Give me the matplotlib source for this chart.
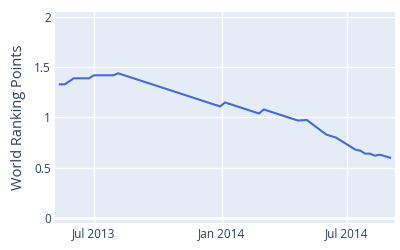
import numpy as np
import pandas as pd
import matplotlib
matplotlib.use("Agg")
import matplotlib.pyplot as plt
import matplotlib.dates as mdates

plt.rcParams['font.family'] = ['Open Sans', 'DejaVu Sans']

dates = pd.to_datetime([
    "2013-05-13", "2013-05-20", "2013-06-02", "2013-06-24", "2013-07-01",
    "2013-07-29", "2013-08-05", "2013-12-30", "2014-01-06", "2014-02-24",
    "2014-03-03", "2014-04-21", "2014-05-04", "2014-06-01", "2014-06-15",
    "2014-07-13", "2014-07-20", "2014-07-27", "2014-08-03", "2014-08-10",
    "2014-08-17", "2014-09-01",
])
points = [
    1.33, 1.33, 1.39, 1.39, 1.42,
    1.42, 1.44, 1.11, 1.15, 1.04,
    1.08, 0.97, 0.975, 0.83, 0.80,
    0.68, 0.67, 0.64, 0.64, 0.62,
    0.63, 0.60,
]

tick_dates = pd.to_datetime(["2013-07-01", "2014-01-01", "2014-07-01"])
tick_labels = ["Jul 2013", "Jan 2014", "Jul 2014"]
y_ticks = [0, 0.5, 1, 1.5, 2]
y_labels = ["0", "0.5", "1", "1.5", "2"]

fig = plt.figure(figsize=(4, 2.5), dpi=100)
ax = fig.add_axes([55 / 400, 1 - 223 / 250, 340 / 400, 211 / 250])
ax.set_facecolor("#E5ECF6")

ax.plot(dates, points, color="#4169E1", linewidth=1.5, zorder=3)

ax.set_xlim(pd.Timestamp("2013-05-06"), pd.Timestamp("2014-09-08"))
ax.set_ylim(-0.05, 2.05)
ax.set_xticks(tick_dates)
ax.set_xticklabels(tick_labels)
ax.set_yticks(y_ticks)
ax.set_yticklabels(y_labels)

ax.grid(True, color="white", linewidth=1)
ax.axhline(0, color="white", linewidth=2, zorder=2)
ax.set_axisbelow(True)
for s in ax.spines.values():
    s.set_visible(False)
ax.tick_params(length=0, labelsize=8.5, colors="#2a3f5f", pad=3)
ax.set_ylabel("World Ranking Points", fontsize=10.5, color="#2a3f5f", labelpad=6)

fig.savefig("out.png", dpi=100)
